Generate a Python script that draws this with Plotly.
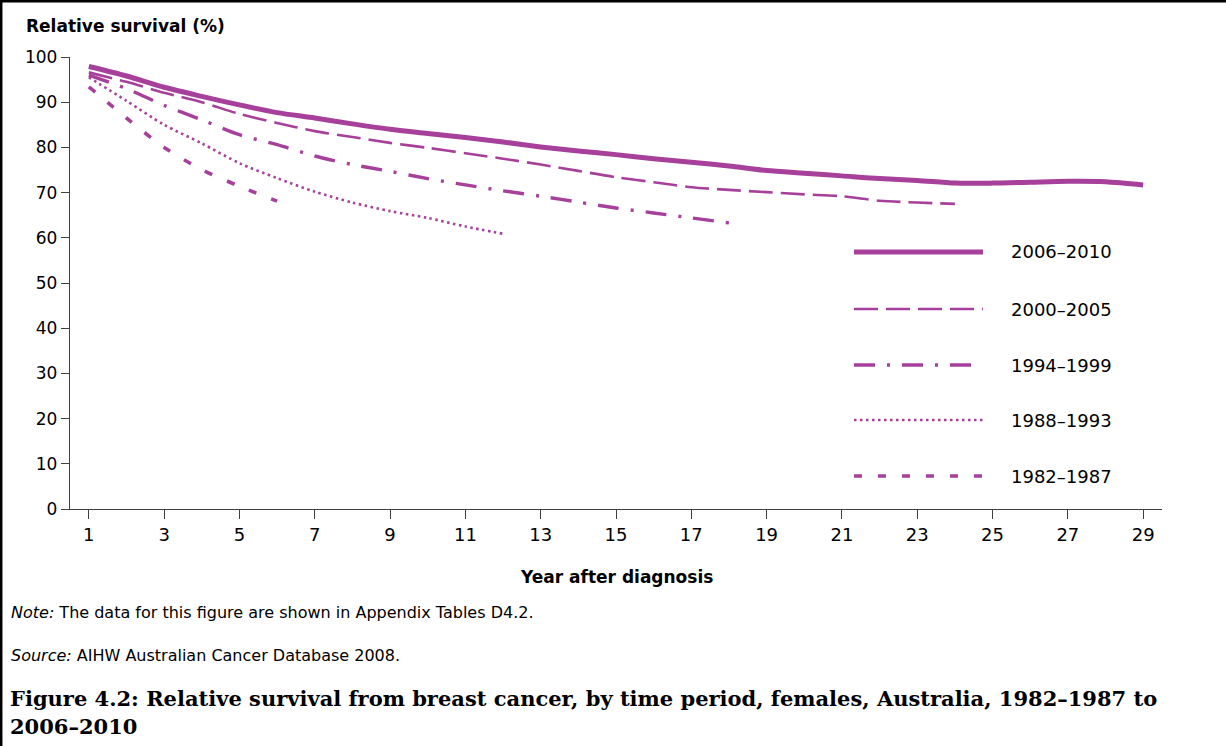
import plotly.graph_objects as go

# ---------------- data ----------------
series_names = ["2006–2010", "2000–2005", "1994–1999", "1988–1993", "1982–1987"]

years_2006 = list(range(1, 30))
surv_2006 = [97.9, 95.8, 93.3, 91.3, 89.4, 87.7, 86.5, 85.2, 84.0, 83.1,
             82.2, 81.2, 80.1, 79.2, 78.4, 77.5, 76.7, 75.9, 74.9, 74.3,
             73.7, 73.1, 72.7, 72.1, 72.1, 72.3, 72.5, 72.4, 71.7]

years_2000 = list(range(1, 25))
surv_2000 = [96.6, 94.5, 92.1, 90.0, 87.4, 85.4, 83.6, 82.3, 81.0, 79.9,
             78.7, 77.5, 76.2, 74.8, 73.4, 72.3, 71.2, 70.6, 70.1, 69.6,
             69.2, 68.2, 67.8, 67.5]

years_1994 = list(range(1, 19))
surv_1994 = [96.0, 93.0, 89.3, 86.1, 82.8, 80.6, 78.1, 76.2, 74.7, 73.1,
             71.7, 70.4, 69.2, 67.9, 66.6, 65.5, 64.4, 63.3]

years_1988 = list(range(1, 13))
surv_1988 = [95.5, 90.3, 85.0, 80.9, 76.5, 73.2, 70.2, 67.8, 65.9, 64.4,
             62.5, 60.9]

years_1982 = list(range(1, 7))
surv_1982 = [93.4, 86.5, 80.0, 75.1, 71.4, 68.1]

x_ticks = list(range(1, 30, 2))
y_ticks = list(range(0, 101, 10))

# ---------------- styles ----------------
PURPLE = "#A6409B"
AXIS = "#404040"
SANS = "DejaVu Sans"
SERIF = "DejaVu Serif"

styles = [
    dict(width=5, dash="solid"),
    dict(width=2.6, dash="24px,8px"),
    dict(width=3.4, dash="21px,12px,3px,12px"),
    dict(width=2.6, dash="2.5px,3.5px"),
    dict(width=3.6, dash="8px,16px"),
]
data = [(years_2006, surv_2006), (years_2000, surv_2000), (years_1994, surv_1994),
        (years_1988, surv_1988), (years_1982, surv_1982)]

W, H = 1226, 746
L, R, T, B = 70, 64, 57, 237
PW, PH = W - L - R, H - T - B


def px(x):
    return (x - L) / PW


def py(y):
    return (H - B - y) / PH


fig = go.Figure()
for name, (xs, ys), st in zip(series_names, data, styles):
    fig.add_trace(go.Scatter(
        x=xs, y=ys, name=name, mode="lines",
        line=dict(color=PURPLE, width=st["width"], dash=st["dash"],
                  shape="spline", smoothing=0.8),
        showlegend=False,
    ))

shapes = []
annotations = []

# custom legend (long line samples, as in the original)
leg_y = [252, 309, 365, 420, 476]
for name, st, yy in zip(series_names, styles, leg_y):
    shapes.append(dict(type="line", xref="paper", yref="paper",
                       x0=px(854), x1=px(983), y0=py(yy), y1=py(yy),
                       line=dict(color=PURPLE, width=st["width"], dash=st["dash"])))
    annotations.append(dict(text=name, xref="paper", yref="paper",
                            x=px(1009), y=py(yy), xanchor="left", yanchor="middle",
                            showarrow=False, font=dict(family=SANS, size=18, color="#000")))

# frame lines (top and left)
shapes.append(dict(type="line", xref="paper", yref="paper",
                   x0=px(0), x1=px(W), y0=py(1.2), y1=py(1.2),
                   line=dict(color="#000", width=2.5)))
shapes.append(dict(type="line", xref="paper", yref="paper",
                   x0=px(1.2), x1=px(1.2), y0=py(0), y1=py(H),
                   line=dict(color="#000", width=2.5)))

annotations += [
    dict(text="<b>Relative survival (%)</b>", xref="paper", yref="paper",
         x=px(24), y=py(26), xanchor="left", yanchor="middle", showarrow=False,
         font=dict(family=SANS, size=17, color="#000")),
    dict(text="<b>Year after diagnosis</b>", xref="paper", yref="paper",
         x=px(616), y=py(577), xanchor="center", yanchor="middle", showarrow=False,
         font=dict(family=SANS, size=17, color="#000")),
    dict(text="<i>Note:</i> The data for this figure are shown in Appendix Tables D4.2.",
         xref="paper", yref="paper", x=px(9), y=py(612), xanchor="left", yanchor="middle",
         showarrow=False, font=dict(family=SANS, size=16, color="#000")),
    dict(text="<i>Source:</i> AIHW Australian Cancer Database 2008.",
         xref="paper", yref="paper", x=px(9), y=py(655), xanchor="left", yanchor="middle",
         showarrow=False, font=dict(family=SANS, size=16, color="#000")),
    dict(text="<b>Figure 4.2: Relative survival from breast cancer, by time period, females, Australia, 1982–1987 to</b>",
         xref="paper", yref="paper", x=px(8), y=py(698), xanchor="left", yanchor="middle",
         showarrow=False, font=dict(family=SERIF, size=21, color="#000")),
    dict(text="<b>2006–2010</b>",
         xref="paper", yref="paper", x=px(8), y=py(726), xanchor="left", yanchor="middle",
         showarrow=False, font=dict(family=SERIF, size=21, color="#000")),
]

fig.update_layout(
    width=W, height=H,
    margin=dict(l=L, r=R, t=T, b=B, pad=0),
    paper_bgcolor="white", plot_bgcolor="white",
    showlegend=False,
    shapes=shapes,
    annotations=annotations,
    xaxis=dict(range=[0.5, 29.5], tickvals=x_ticks, ticktext=[str(v) for v in x_ticks],
               showgrid=False, zeroline=False, showline=True, linecolor=AXIS, linewidth=1.3,
               ticks="outside", ticklen=9, tickwidth=1.3, tickcolor=AXIS,
               tickfont=dict(family=SANS, size=18, color="#000"), fixedrange=True),
    yaxis=dict(range=[0, 100], tickvals=y_ticks, ticktext=[str(v) for v in y_ticks],
               showgrid=False, zeroline=False, showline=True, linecolor=AXIS, linewidth=1.3,
               ticks="outside", ticklen=8, tickwidth=1.3, tickcolor=AXIS,
               tickfont=dict(family=SANS, size=17, color="#000"), fixedrange=True),
)

fig.write_html(
    "out.html",
    config={"displayModeBar": False},
    post_script=("document.documentElement.style.margin='0';"
                 "document.documentElement.style.overflow='hidden';"
                 "document.body.style.margin='0';document.body.style.overflow='hidden';"),
)
